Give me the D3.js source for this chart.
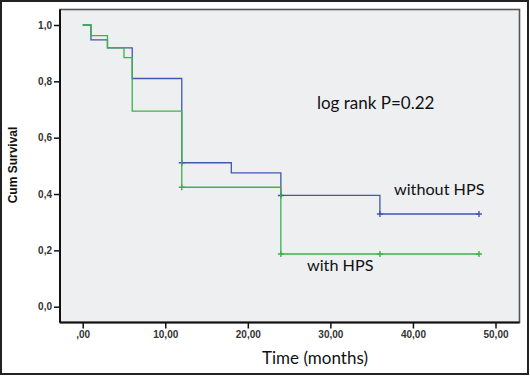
<!DOCTYPE html>
<html>

<head>
    <meta charset="utf-8">
    <title>Cum Survival</title>
    <script src="https://d3js.org/d3.v7.min.js"></script>
    <style>
        body { margin: 0; background: #fff; }
    </style>
</head>

<body>
    <div id='view'></div>

    <script>
        // Kaplan-Meier step data (time in months, cumulative survival)
        var withoutTimes = [0, 1, 3, 6, 12, 18, 24, 36, 48];
        var withoutSurv = [1.0, 0.947, 0.919, 0.81, 0.511, 0.475, 0.395, 0.329, 0.329];
        var withoutCensored = [12, 24, 36, 48];

        var withTimes = [0, 1, 3, 5, 6, 12, 24, 36, 48];
        var withSurv = [1.0, 0.962, 0.919, 0.884, 0.694, 0.424, 0.187, 0.187, 0.187];
        var withCensored = [12, 24, 36, 48];

        var xTicks = [0, 10, 20, 30, 40, 50];
        var yTicks = [0, 0.2, 0.4, 0.6, 0.8, 1.0];

        var width = 530;
        var height = 376;

        var svg = d3.select("#view")
            .append("svg")
            .attr("width", width)
            .attr("height", height);

        // outer frame of the picture
        svg.append("rect")
            .attr("x", 1)
            .attr("y", 1)
            .attr("width", 527)
            .attr("height", 373)
            .attr("fill", "white")
            .attr("stroke", "#222")
            .attr("stroke-width", 2);

        var plotLeft = 60, plotTop = 9.5, plotRight = 519.5, plotBottom = 322.5;

        var xScale = d3.scaleLinear().domain([0, 50]).range([82.7, 495.5]);
        var yScale = d3.scaleLinear().domain([0, 1]).range([306.7, 25]);

        svg.append("rect")
            .attr("x", plotLeft)
            .attr("y", plotTop)
            .attr("width", plotRight - plotLeft)
            .attr("height", plotBottom - plotTop)
            .attr("fill", "#eeeff1")
            .attr("stroke", "#555")
            .attr("stroke-width", 1.6);

        // axes
        var yAxis = svg.append("g")
            .attr("transform", "translate(" + plotLeft + ",0)")
            .call(d3.axisLeft(yScale).tickValues(yTicks).tickSize(6).tickPadding(2)
                .tickFormat(function (d) { return d3.format(".1f")(d).replace(".", ","); }));
        yAxis.select("path").attr("opacity", 0.0);

        var xAxis = svg.append("g")
            .attr("transform", "translate(0," + plotBottom + ")")
            .call(d3.axisBottom(xScale).tickValues(xTicks).tickSize(6).tickPadding(2)
                .tickFormat(function (d) { return d === 0 ? ",00" : d3.format(".2f")(d).replace(".", ","); }));
        xAxis.select("path").attr("opacity", 0.0);

        svg.selectAll(".tick line").attr("stroke", "#111").attr("stroke-width", 1.5);
        svg.selectAll(".tick text")
            .attr("fill", "#333")
            .style("font-family", "Liberation Sans, Arial, sans-serif")
            .style("font-size", "10px")
            .style("font-weight", "bold");

        // darker left and bottom axis lines
        svg.append("line")
            .attr("x1", plotLeft).attr("x2", plotLeft)
            .attr("y1", plotTop).attr("y2", plotBottom)
            .attr("stroke", "#111").attr("stroke-width", 2);
        svg.append("line")
            .attr("x1", plotLeft).attr("x2", plotRight)
            .attr("y1", plotBottom).attr("y2", plotBottom)
            .attr("stroke", "#111").attr("stroke-width", 2);

        var line = d3.line()
            .x(function (d) { return xScale(d[0]); })
            .y(function (d) { return yScale(d[1]); })
            .curve(d3.curveStepAfter);

        function drawCurve(times, surv, censored, color) {
            var pts = times.map(function (t, i) { return [t, surv[i]]; });
            svg.append("path")
                .datum(pts)
                .attr("fill", "none")
                .attr("stroke", color)
                .attr("stroke-width", 1.3)
                .attr("d", line);

            censored.forEach(function (t) {
                var idx = times.indexOf(t);
                var cx = xScale(t), cy = yScale(surv[idx]);
                svg.append("path")
                    .attr("d", "M" + (cx - 3) + "," + cy + "H" + (cx + 3) + "M" + cx + "," + (cy - 3) + "V" + (cy + 3))
                    .attr("stroke", color)
                    .attr("stroke-width", 1.4);
            });
        }

        drawCurve(withoutTimes, withoutSurv, withoutCensored, "#3e58b3");
        drawCurve(withTimes, withSurv, withCensored, "#3db24a");

        // texts
        svg.append("text")
            .attr("transform", "translate(17,165) rotate(-90)")
            .attr("text-anchor", "middle")
            .style("font-family", "Liberation Sans, Arial, sans-serif")
            .style("font-size", "12px")
            .style("font-weight", "bold")
            .attr("fill", "#111")
            .text("Cum Survival");

        var labelFont = "Lato, Carlito, Calibri, sans-serif";

        svg.append("text")
            .attr("x", 315).attr("y", 364)
            .attr("text-anchor", "middle")
            .style("font-family", labelFont)
            .style("font-size", "17px")
            .attr("fill", "#111")
            .text("Time (months)");

        svg.append("text")
            .attr("x", 317).attr("y", 109)
            .style("font-family", labelFont)
            .style("font-size", "17px")
            .attr("fill", "#111")
            .text("log rank P=0.22");

        svg.append("text")
            .attr("x", 394).attr("y", 195)
            .style("font-family", labelFont)
            .style("font-size", "16.2px")
            .attr("fill", "#111")
            .text("without HPS");

        svg.append("text")
            .attr("x", 307).attr("y", 271)
            .style("font-family", labelFont)
            .style("font-size", "16.2px")
            .attr("fill", "#111")
            .text("with HPS");
    </script>

</body>

</html>
